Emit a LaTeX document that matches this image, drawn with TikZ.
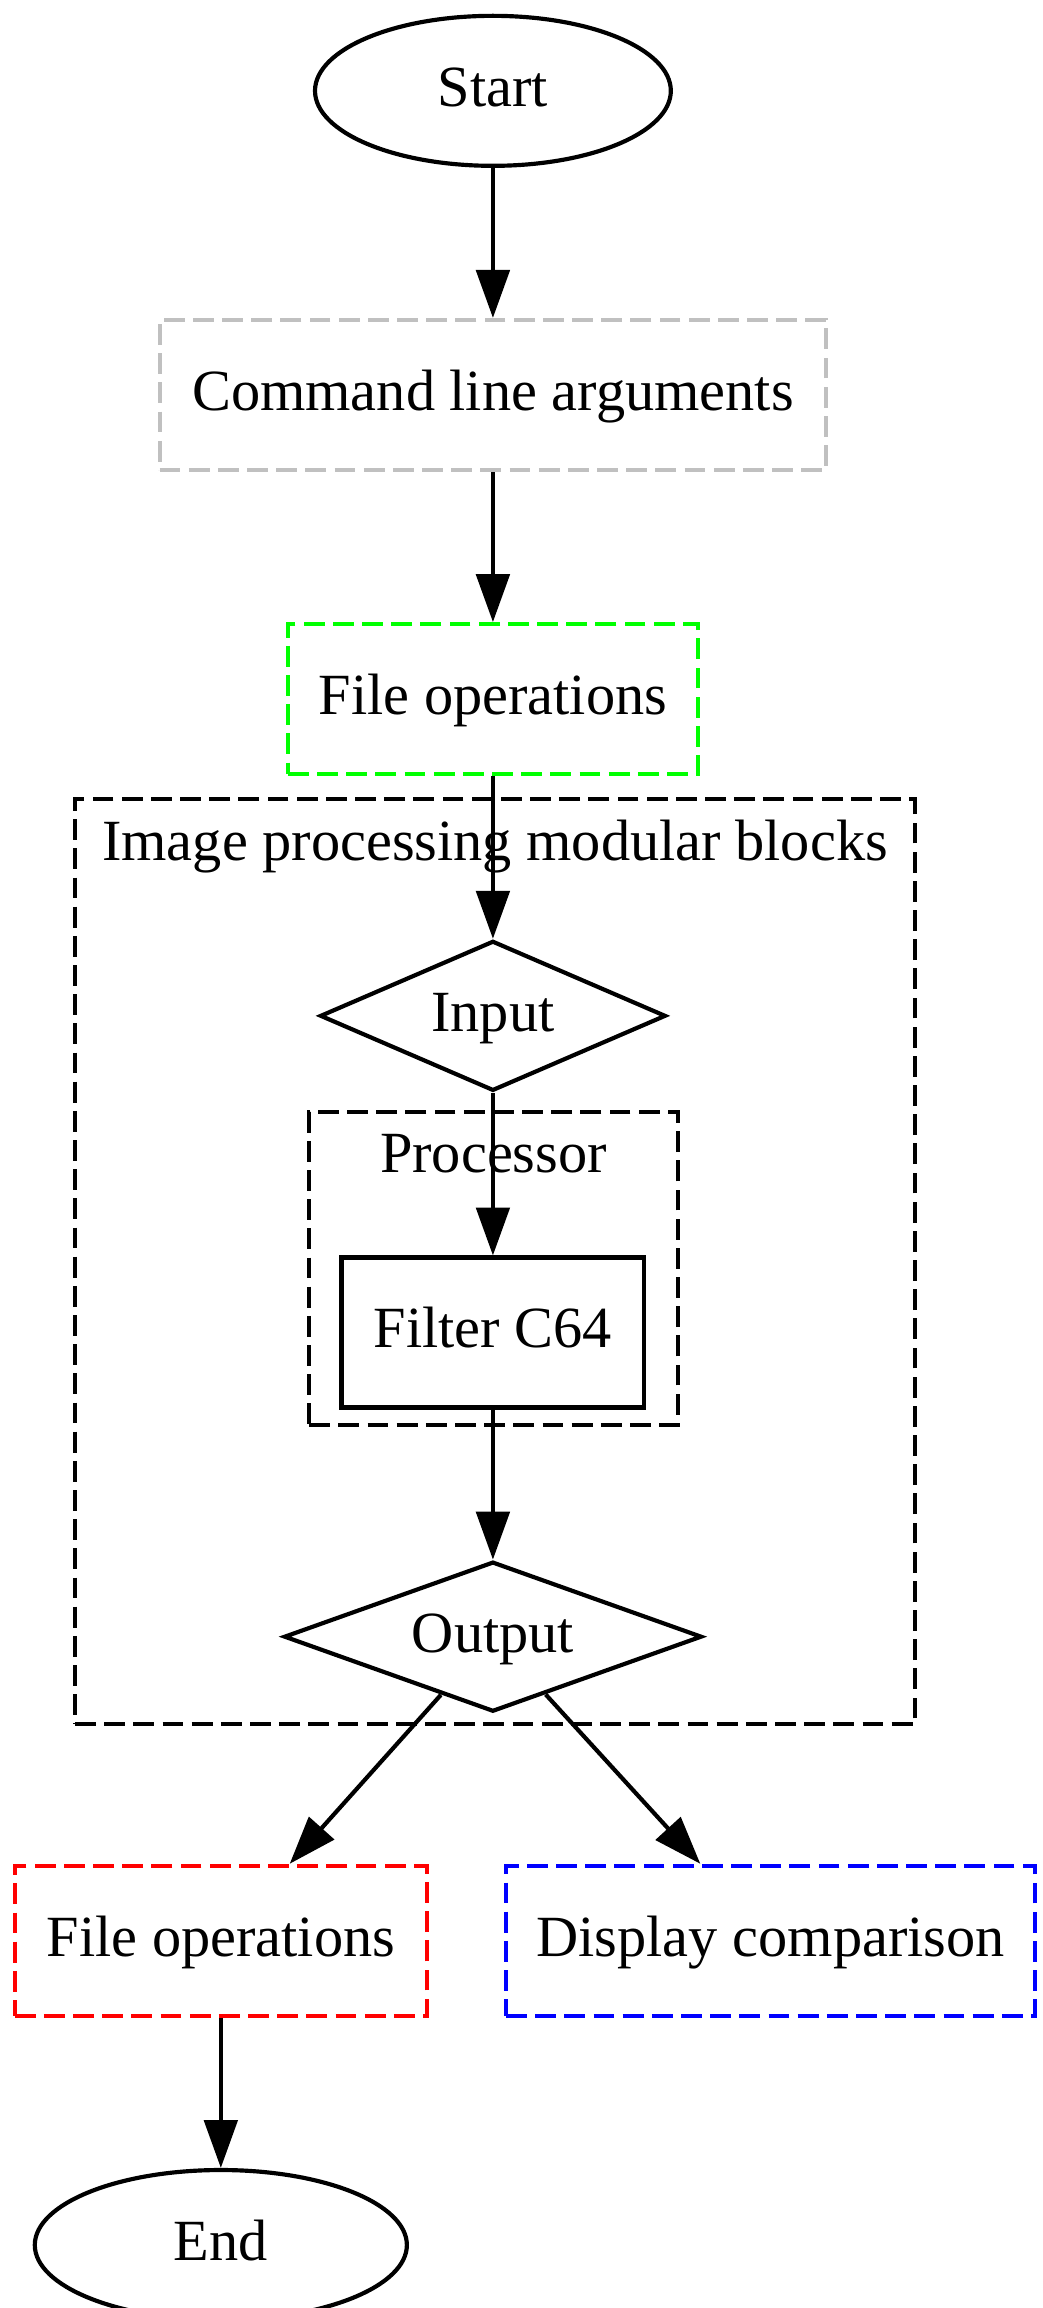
\documentclass[tikz,border=0pt]{standalone}
\usepackage{fontspec}
\setmainfont{Liberation Serif}
\usepackage{tikz}
\usetikzlibrary{shapes.geometric,arrows.meta,positioning}
\definecolor{argsgray}{RGB}{192,192,192}
\definecolor{fileingreen}{RGB}{0,255,0}
\definecolor{fileoutred}{RGB}{255,0,0}
\definecolor{displayblue}{RGB}{0,0,255}

\begin{document}
\begin{tikzpicture}[
        node distance=36pt,
        every node/.style={font=\fontsize{14pt}{17pt}\selectfont, text height=10pt, text depth=2.6pt, inner sep=1pt},
        gvline/.style={line width=1pt},
        gvdash/.style={dash pattern=on 5pt off 2pt},
        term/.style={ellipse, draw, gvline, minimum width=#1, minimum height=36pt},
        box/.style={rectangle, draw=#1, gvline, gvdash, minimum height=36pt},
        filterbox/.style={rectangle, draw, gvline, minimum height=36pt},
        decision/.style={diamond, draw, gvline, minimum width=#1, minimum height=36pt, shape aspect=2.6},
        cluster/.style={rectangle, draw, gvline, gvdash, inner sep=0pt},
        flow/.style={gvline, -{Triangle[length=11.5pt, width=8pt]}}
    ]
        \useasboundingbox (0pt,0pt) rectangle (250.08pt,-553.92pt);

        % Main chain
        \node[term=85.4pt] (start) at (118.3pt,-21.8pt) {Start};
        \node[box=argsgray, minimum width=160pt, below=of start] (args) {Command line arguments};
        \node[box=fileingreen, minimum width=98.4pt, below=of args] (filein) {File operations};
        \node[decision=83pt, below=39pt of filein] (input) {Input};
        \node[filterbox, minimum width=72.7pt, below=39pt of input] (filter) {Filter C64};
        \node[decision=100.3pt, below=of filter] (output) {Output};
        \node[box=fileoutred, minimum width=98.9pt, below=of output, xshift=-65.3pt] (fileout) {File operations};
        \node[box=displayblue, minimum width=127pt, right=18pt of fileout] (display) {Display comparison};
        \node[term=89.3pt, below=of fileout] (stop) {End};

        % Clusters
        \node[cluster, minimum width=201.6pt, minimum height=222pt] (blocks) at (118.8pt,-302.8pt) {};
        \node[anchor=base, inner sep=0pt] (blockslabel) at ([yshift=-15.3pt]blocks.north) {Image processing modular blocks};
        \node[cluster, minimum width=88.5pt, minimum height=75.1pt] (proc) at (118.45pt,-304.45pt) {};
        \node[anchor=base, inner sep=0pt] (proclabel) at ([yshift=-15.1pt]proc.north) {Processor};

        % Connections
        \draw[flow] (start) -- (args);
        \draw[flow] (args) -- (filein);
        \draw[flow] (filein) -- (input);
        \draw[flow] (input) -- (filter);
        \draw[flow] (filter) -- (output);
        \draw[flow] (output) -- (fileout);
        \draw[flow] (output) -- (display);
        \draw[flow] (fileout) -- (stop);
    \end{tikzpicture}
\end{document}
